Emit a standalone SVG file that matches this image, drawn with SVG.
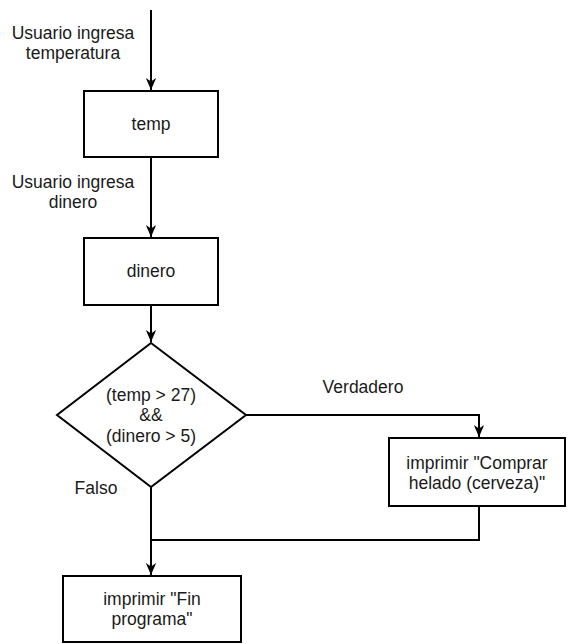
<svg xmlns="http://www.w3.org/2000/svg" width="570" height="644" viewBox="0 0 570 644">
<defs>
<marker id="arr" markerWidth="12" markerHeight="14" refX="14" refY="6" orient="auto" markerUnits="userSpaceOnUse" viewBox="0 0 14 12">
<path d="M0,0 L14,6 L0,12 L4,6 Z" fill="#000"/>
</marker>
<style>
.n{fill:#fff;stroke:#000;stroke-width:2}
.e{fill:none;stroke:#000;stroke-width:2}
text{font-family:"Liberation Sans",Arial,sans-serif;font-size:17.5px;fill:#1a1a1a;text-anchor:middle;dominant-baseline:central}
</style>
</defs>
<rect width="570" height="644" fill="#fff"/>
<g id="connectors">
<path class="e" d="M151,10 V90" marker-end="url(#arr)"/>
<text x="73" y="33">Usuario ingresa</text>
<text x="73" y="53">temperatura</text>
<path class="e" d="M151,157 V237" marker-end="url(#arr)"/>
<text x="73" y="182">Usuario ingresa</text>
<text x="73" y="202">dinero</text>
<path class="e" d="M151,305 V342" marker-end="url(#arr)"/>
<path class="e" d="M246,415 H479 V437" marker-end="url(#arr)"/>
<text x="363" y="387">Verdadero</text>
<path class="e" d="M151,487 V575" marker-end="url(#arr)"/>
<text x="96" y="488">Falso</text>
<path class="e" d="M479,506 V540 H151"/>
</g>
<g id="temp">
<rect class="n" x="84" y="91" width="134" height="66"/>
<text x="151" y="124">temp</text>
</g>
<g id="dinero">
<rect class="n" x="84" y="238" width="134" height="67"/>
<text x="151" y="271">dinero</text>
</g>
<g id="decision">
<polygon class="n" points="151,343 246,415 151,487 57,415"/>
<text x="151" y="395">(temp &gt; 27)</text>
<text x="151" y="415">&amp;&amp;</text>
<text x="151" y="436">(dinero &gt; 5)</text>
</g>
<g id="comprar">
<rect class="n" x="389" y="438" width="176" height="68"/>
<text x="477" y="463">imprimir "Comprar</text>
<text x="477" y="483">helado (cerveza)"</text>
</g>
<g id="fin">
<rect class="n" x="63" y="576" width="178" height="66"/>
<text x="152" y="599">imprimir "Fin</text>
<text x="152" y="619">programa"</text>
</g>
</svg>
